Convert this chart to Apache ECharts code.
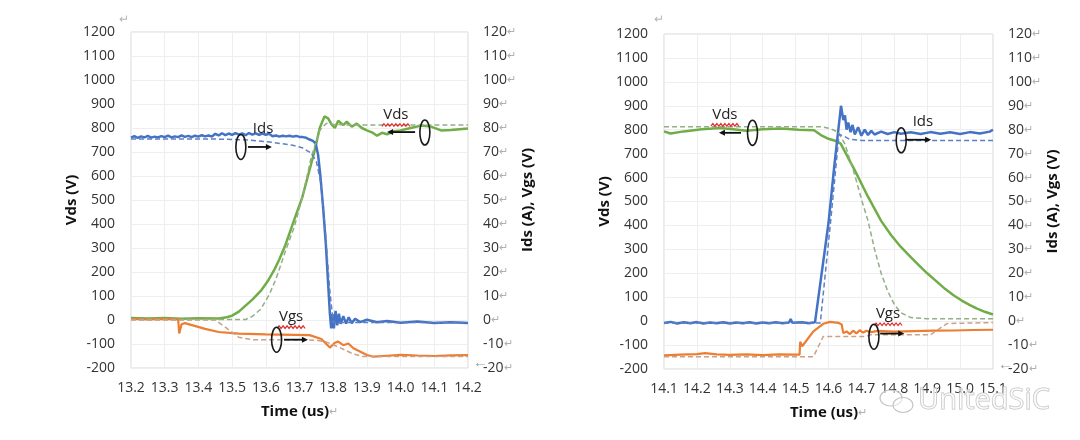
<!DOCTYPE html>
<html><head><meta charset="utf-8">
<script src="https://cdn.jsdelivr.net/npm/echarts@6/dist/echarts.min.js"></script>
<style>html,body{margin:0;padding:0;background:#fff}#c{width:1080px;height:440px}</style>
</head><body><div id="c"></div>
<script>
// ---------- axis ranges ----------
const leftTime = {min: 13.2, max: 14.2, step: 0.1};
const rightTime = {min: 14.1, max: 15.1, step: 0.1};
const vdsRange = {min: -200, max: 1200, step: 100};
const idsVgsRange = {min: -20, max: 120, step: 10};

// ---------- LEFT chart (turn-off) : [time us, value] ----------
const L_vdsMeas = [[13.2,8],[13.25,6],[13.3,8],[13.35,5],[13.4,7],[13.46,6],[13.48,10],[13.5,18],[13.52,35],[13.54,60],[13.56,85],[13.585,121],[13.605,160],[13.626,211],[13.64,252],[13.656,305],[13.667,348],[13.677,388],[13.69,440],[13.708,510],[13.725,600],[13.744,700],[13.76,800],[13.774,848],[13.785,840],[13.795,815],[13.805,800],[13.815,830],[13.83,812],[13.84,826],[13.855,806],[13.87,818],[13.885,800],[13.9,790],[13.915,782],[13.93,768],[13.945,780],[13.96,774],[13.98,786],[14.0,790],[14.03,800],[14.06,810],[14.09,806],[14.12,790],[14.15,792],[14.2,798]];
const L_vdsSim = [[13.2,2],[13.54,2],[13.56,15],[13.585,45],[13.61,105],[13.63,170],[13.66,294],[13.685,390],[13.71,520],[13.735,680],[13.76,790],[13.78,820],[13.8,815],[13.85,812],[14.2,812]];
const L_idsMeas = [[13.20,76.0],[13.21,76.6],[13.22,75.9],[13.23,76.5],[13.24,76.1],[13.25,76.7],[13.26,76.0],[13.27,76.4],[13.28,76.1],[13.29,76.6],[13.30,76.2],[13.31,76.8],[13.32,76.1],[13.33,76.5],[13.34,76.2],[13.35,76.9],[13.36,76.3],[13.37,76.7],[13.38,76.2],[13.39,76.8],[13.40,76.4],[13.41,77.0],[13.42,76.5],[13.43,76.9],[13.44,76.4],[13.45,77.6],[13.46,76.9],[13.47,77.8],[13.48,77.0],[13.49,77.7],[13.50,77.1],[13.51,77.9],[13.52,77.2],[13.53,77.8],[13.54,77.0],[13.55,77.9],[13.56,77.2],[13.57,77.8],[13.58,77.1],[13.59,77.7],[13.60,77.2],[13.61,77.6],[13.62,76.6],[13.63,76.9],[13.64,76.4],[13.65,76.8],[13.66,76.5],[13.67,76.8],[13.68,76.4],[13.69,76.7],[13.70,76.3],[13.71,76.2],[13.72,75.9],[13.73,75.2],[13.74,74.6],[13.748,73.5],[13.755,69],[13.762,60],[13.77,47],[13.778,32],[13.785,15],[13.79,3],[13.794,-3.5],[13.798,2.5],[13.802,-3.5],[13.807,3.8],[13.812,-2.2],[13.817,2.6],[13.822,-1.6],[13.83,1.6],[13.838,-1.5],[13.846,1.1],[13.855,-1.3],[13.865,0.5],[13.88,-0.9],[13.9,0.1],[13.93,-0.9],[13.96,-0.4],[14.0,-1.1],[14.05,-0.6],[14.1,-1.2],[14.15,-0.9],[14.2,-1.2]];
const L_idsSim = [[13.2,75.4],[13.45,75.4],[13.55,75.0],[13.626,73.9],[13.68,72.8],[13.708,71.8],[13.735,69.5],[13.75,66],[13.762,58],[13.775,40],[13.79,12],[13.8,-1],[14.2,-1]];
const L_vgsMeas = [[13.2,0.5],[13.25,0.2],[13.3,0.5],[13.34,0.3],[13.343,-5.6],[13.35,-1.8],[13.36,-1.3],[13.42,-3.7],[13.46,-5.0],[13.52,-5.7],[13.6,-6.0],[13.73,-6.3],[13.765,-7.9],[13.79,-11.5],[13.805,-9.5],[13.815,-9.0],[13.83,-10.5],[13.845,-9.8],[13.86,-11.8],[13.875,-12.8],[13.9,-14.6],[13.92,-15.3],[13.96,-14.9],[14.0,-14.5],[14.05,-14.8],[14.1,-15.0],[14.15,-14.7],[14.2,-14.6]];
const L_vgsSim = [[13.2,0],[13.45,0],[13.48,-3],[13.52,-7.2],[13.56,-8.2],[13.75,-8.4],[13.78,-9.2],[13.82,-11.5],[13.86,-14.2],[13.89,-15.2],[14.2,-15.2]];

// ---------- RIGHT chart (turn-on) ----------
const R_vdsMeas = [[14.1,793],[14.12,784],[14.16,793],[14.215,802],[14.27,807],[14.31,802],[14.35,796],[14.4,802],[14.456,805],[14.51,800],[14.556,798],[14.58,775],[14.6,762],[14.62,754],[14.637,742],[14.68,630],[14.72,520],[14.76,419],[14.79,360],[14.82,310],[14.85,268],[14.875,233],[14.9,200],[14.93,164],[14.955,134],[14.98,108],[15.005,86],[15.03,67],[15.05,53],[15.075,39],[15.1,28]];
const R_vdsSim = [[14.1,812],[14.58,812],[14.605,805],[14.63,790],[14.65,740],[14.68,610],[14.7,510],[14.72,420],[14.74,300],[14.76,200],[14.78,125],[14.8,70],[14.82,35],[14.85,15],[14.9,10],[15.1,10]];
const R_idsMeas = [[14.10,-0.8],[14.12,-0.3],[14.14,-1.0],[14.16,-0.5],[14.18,-0.9],[14.20,-0.4],[14.22,-1.0],[14.24,-0.6],[14.26,-0.9],[14.28,-0.5],[14.30,-1.0],[14.32,-0.6],[14.34,-0.9],[14.36,-0.5],[14.38,-1.0],[14.40,-0.6],[14.42,-0.9],[14.44,-0.5],[14.46,-0.9],[14.48,-0.6],[14.485,0.9],[14.49,-0.7],[14.52,-0.5],[14.54,-0.9],[14.559,-0.5],[14.6,41],[14.617,64],[14.638,90],[14.645,84],[14.65,86],[14.655,80],[14.66,83],[14.667,79],[14.673,82],[14.68,78],[14.69,81],[14.70,77.5],[14.71,80],[14.72,77.8],[14.73,79.5],[14.74,78],[14.76,79.2],[14.78,78.2],[14.80,79],[14.82,78.3],[14.85,78.9],[14.88,78.2],[14.91,79],[14.94,78.3],[14.97,78.9],[15.0,78.2],[15.03,79],[15.06,78.4],[15.09,79.2],[15.1,80]];
const R_idsSim = [[14.1,-0.8],[14.575,-0.8],[14.606,41],[14.632,78],[14.645,77.5],[14.664,76],[14.7,75.5],[15.1,75.5]];
const R_vgsMeas = [[14.1,-14.3],[14.15,-14.0],[14.2,-13.8],[14.225,-13.4],[14.26,-13.9],[14.3,-14.1],[14.35,-13.9],[14.4,-14.2],[14.45,-13.9],[14.5,-14.0],[14.512,-14.0],[14.514,-8.6],[14.52,-10.5],[14.554,-4.3],[14.584,-1.1],[14.605,-0.3],[14.63,-0.7],[14.64,-1.4],[14.645,-5.0],[14.655,-4.3],[14.665,-5.4],[14.675,-4.0],[14.685,-5.1],[14.695,-3.8],[14.705,-4.8],[14.715,-4.0],[14.73,-4.6],[14.75,-4.1],[14.8,-4.4],[14.86,-4.2],[14.92,-4.0],[14.98,-3.9],[15.04,-3.7],[15.1,-3.6]];
const R_vgsSim = [[14.1,-14.9],[14.554,-14.9],[14.584,-6.4],[14.716,-6.4],[14.726,-5.7],[14.91,-5.7],[14.96,-1.0],[15.1,-0.6]];

// ---------- colours ----------
const C_BLUE = '#4472C4', C_GREEN = '#70AD47', C_ORANGE = '#ED7D31';
const C_BLUE_SIM = '#5b80c6', C_GREEN_SIM = '#93ae86', C_ORANGE_SIM = '#c9a088';
const FONT = "'Open Sans','Noto Sans',sans-serif";

const chart = echarts.init(document.getElementById('c'), null, {renderer: 'canvas'});

function timeAxis(gi, r) {
  return {type: 'value', gridIndex: gi, min: r.min, max: r.max, interval: r.step,
    axisLine: {show: false}, axisTick: {show: false},
    splitLine: {show: true, lineStyle: {color: '#eeeeee', width: 1}},
    axisLabel: {color: '#333', fontSize: 14, fontFamily: FONT, margin: 13,
      formatter: v => (Math.round(v * 10) / 10).toFixed(1)},
    name: 'Time (us){r|↵}', nameLocation: 'middle', nameGap: 36,
    nameTextStyle: {fontSize: 15, fontWeight: 'bold', color: '#111', fontFamily: FONT,
      rich: {r: {color: '#b0b0b0', fontSize: 11, fontWeight: 'normal'}}}};
}
function leftAxis(gi) {
  return {type: 'value', gridIndex: gi, position: 'left', min: vdsRange.min, max: vdsRange.max, interval: vdsRange.step,
    axisLine: {show: false}, axisTick: {show: false},
    splitLine: {show: true, lineStyle: {color: '#eeeeee', width: 1}},
    axisLabel: {color: '#333', fontSize: 14, fontFamily: FONT, margin: 16, formatter: v => String(Math.round(v))},
    name: 'Vds (V)', nameLocation: 'middle', nameRotate: 90, nameGap: 47,
    nameTextStyle: {fontSize: 15, fontWeight: 'bold', color: '#111', fontFamily: FONT}};
}
function rightAxis(gi) {
  return {type: 'value', gridIndex: gi, position: 'right', min: idsVgsRange.min, max: idsVgsRange.max, interval: idsVgsRange.step,
    axisLine: {show: false}, axisTick: {show: false}, splitLine: {show: false},
    axisLabel: {color: '#333', fontSize: 14, fontFamily: FONT, margin: 15,
      formatter: v => Math.round(v) + '{r|↵}', rich: {r: {color: '#b0b0b0', fontSize: 11}}},
    name: 'Ids (A), Vgs (V)', nameLocation: 'middle', nameRotate: 90, nameGap: 41,
    nameTextStyle: {fontSize: 15, fontWeight: 'bold', color: '#111', fontFamily: FONT}};
}
function line(name, data, xi, yi, color, width, dashed, z) {
  return {name, type: 'line', data, xAxisIndex: xi, yAxisIndex: yi, showSymbol: false, symbol: 'none',
    animation: false, z: z, lineStyle: {color, width, type: dashed ? [5, 3] : 'solid'}};
}

chart.setOption({
  animation: false,
  grid: [
    {left: 131, right: 612, top: 32, bottom: 72, show: true, borderColor: '#d6d6d6', borderWidth: 1},
    {left: 664, right: 87, top: 34, bottom: 71, show: true, borderColor: '#d6d6d6', borderWidth: 1}
  ],
  xAxis: [timeAxis(0, leftTime), timeAxis(1, rightTime)],
  yAxis: [leftAxis(0), rightAxis(0), leftAxis(1), rightAxis(1)],
  series: [
    line('Vds sim', L_vdsSim, 0, 0, C_GREEN_SIM, 1.5, true, 3),
    line('Ids sim', L_idsSim, 0, 1, C_BLUE_SIM, 1.5, true, 3),
    line('Vgs sim', L_vgsSim, 0, 1, C_ORANGE_SIM, 1.5, true, 3),
    line('Vds', L_vdsMeas, 0, 0, C_GREEN, 2.5, false, 2),
    line('Ids', L_idsMeas, 0, 1, C_BLUE, 2.5, false, 2),
    line('Vgs', L_vgsMeas, 0, 1, C_ORANGE, 2.2, false, 2),
    line('Vds sim', R_vdsSim, 1, 2, C_GREEN_SIM, 1.5, true, 3),
    line('Ids sim', R_idsSim, 1, 3, C_BLUE_SIM, 1.5, true, 3),
    line('Vgs sim', R_vgsSim, 1, 3, C_ORANGE_SIM, 1.5, true, 3),
    line('Vds', R_vdsMeas, 1, 2, C_GREEN, 2.5, false, 2),
    line('Ids', R_idsMeas, 1, 3, C_BLUE, 2.5, false, 2),
    line('Vgs', R_vgsMeas, 1, 3, C_ORANGE, 2.2, false, 2)
  ]
});

// ---------- annotations (positions in data units of the left axis) ----------
const annotations = [
  {chart: 0, label: 'Ids', text: [13.592, 796], ell: [13.526, 721], from: [13.547, 721], to: [13.618, 721], squiggle: false},
  {chart: 0, label: 'Vds', text: [13.986, 854], ell: [14.072, 781], from: [14.043, 783], to: [13.96, 783], squiggle: true},
  {chart: 0, label: 'Vgs', text: [13.675, 12], ell: [13.632, -82], from: [13.654, -82], to: [13.725, -82], squiggle: true},
  {chart: 1, label: 'Vds', text: [14.285, 862], ell: [14.369, 787], from: [14.334, 787], to: [14.267, 787], squiggle: true},
  {chart: 1, label: 'Ids', text: [14.887, 833], ell: [14.821, 756], from: [14.833, 758], to: [14.912, 758], squiggle: false},
  {chart: 1, label: 'Vgs', text: [14.781, 29], ell: [14.738, -65], from: [14.757, -52], to: [14.83, -52], squiggle: true}
];
function px(c, p) { return chart.convertToPixel({xAxisIndex: c, yAxisIndex: c * 2}, p); }
const g = [];
annotations.forEach(a => {
  const t = px(a.chart, a.text), e = px(a.chart, a.ell), f = px(a.chart, a.from), to = px(a.chart, a.to);
  g.push({type: 'text', x: t[0], y: t[1], z: 10, style: {text: a.label, font: '15px ' + FONT, fill: '#222', textAlign: 'center', textVerticalAlign: 'middle'}});
  if (a.squiggle) {
    const pts = []; const w = 28, x0 = t[0] - w / 2, yb = t[1] + 10;
    for (let i = 0; i <= 14; i++) pts.push([x0 + i * 2, yb + (i % 2 ? -1.3 : 1.3)]);
    g.push({type: 'polyline', z: 10, shape: {points: pts}, style: {stroke: '#e03030', lineWidth: 1.2, fill: null}});
  }
  g.push({type: 'ellipse', z: 10, shape: {cx: e[0], cy: e[1], rx: 5, ry: 12.5}, style: {fill: null, stroke: '#1a1a1a', lineWidth: 1.6}});
  const dir = to[0] > f[0] ? 1 : -1;
  g.push({type: 'line', z: 10, shape: {x1: f[0], y1: f[1], x2: to[0] - dir * 4, y2: to[1]}, style: {stroke: '#111', lineWidth: 1.8}});
  g.push({type: 'polygon', z: 10, shape: {points: [[to[0], to[1]], [to[0] - dir * 6, to[1] - 3], [to[0] - dir * 6, to[1] + 3]]}, style: {fill: '#111'}});
});
// Word-document artefacts and watermark
g.push({type: 'text', x: 119, y: 14, style: {text: '↵', font: '12px ' + FONT, fill: '#b5b5b5'}});
g.push({type: 'text', x: 654, y: 14, style: {text: '↵', font: '12px ' + FONT, fill: '#b5b5b5'}});
g.push({type: 'text', x: 473, y: 355, style: {text: '←', font: '15px ' + FONT, fill: '#9a9a9a'}});
g.push({type: 'text', x: 998, y: 357, style: {text: '←', font: '15px ' + FONT, fill: '#9a9a9a'}});
g.push({type: 'ellipse', z: 20, shape: {cx: 891, cy: 398, rx: 11, ry: 8}, style: {fill: 'rgba(255,255,255,0.5)', stroke: '#c4c4c4', lineWidth: 1.2}});
g.push({type: 'ellipse', z: 20, shape: {cx: 903, cy: 405, rx: 10, ry: 7.5}, style: {fill: 'rgba(255,255,255,0.5)', stroke: '#c4c4c4', lineWidth: 1.2}});
g.push({type: 'text', z: 20, x: 918, y: 386, style: {text: 'UnitedSiC', font: '29px ' + FONT, fill: 'rgba(255,255,255,0.55)', stroke: '#bdbdbd', lineWidth: 1}});
chart.setOption({graphic: g});
</script></body></html>
